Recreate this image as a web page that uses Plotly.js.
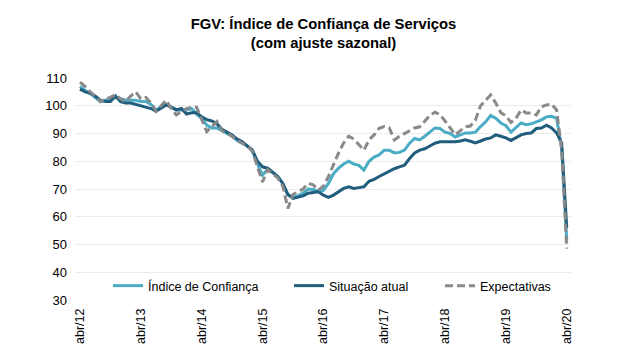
<!DOCTYPE html>
<html>
<head>
<meta charset="utf-8">
<script src="https://cdn.plot.ly/plotly-3.0.1.min.js"></script>
<style>html,body{margin:0;padding:0;background:#fff;}#chart{width:640px;height:364px;}</style>
</head>
<body>
<div id="chart"></div>
<script>
// Tick labels (every 12 months, Apr 2012 .. Apr 2020)
const tickLabels = ["abr/12","abr/13","abr/14","abr/15","abr/16","abr/17","abr/18","abr/19","abr/20"];

// Monthly values, Apr 2012 .. Apr 2020 (97 months)
const indiceConfianca = [
 107,105.5,104.5,103,101.5,102,102.5,103,102.5,102,102,102,
 101.5,101.5,100.5,98.5,99.5,100.5,99.5,98.5,98.5,98.5,99,97,
 95.5,93,92,92,91,90,89,87.5,86.5,85.5,84,79,
 75,77,76,74.5,72,68,67,67.5,68.5,70,69.8,69.2,
 69.5,72,75.5,77.5,79,80,79,78.5,76.8,80,81.5,82.3,
 84,84,83,83.2,84,86.5,88.2,87.7,89,90.5,92,91.8,
 90.5,90,88.7,89.5,90.2,90.2,90.5,92.5,94.2,96.5,95.5,93.8,
 92.8,90.5,92.2,93.8,93.2,93.5,94.2,94.9,96,96.2,95.5,85,
 51.5
];
const situacaoAtual = [
 106,105,104.5,103.5,102,101.5,101.5,103.5,101.5,101,101,100.5,
 100,99.5,99,98,99,100.3,99.5,98.5,99,97,97.5,97.5,
 96,95,94.5,93.5,91.5,90.5,89.5,88,87,85.5,84,80,
 78,77.5,76,74.5,72,68,66.6,67,67.5,68.5,68.8,69,
 67.8,67,67.8,69,70.2,70.8,70.2,70.5,70.8,72.8,73.5,74.5,
 75.5,76.5,77.3,78,78.6,81,83,84,84.5,85.5,86.5,87,
 87,87,87,87.3,87.7,87.2,86.6,87.3,88,88.4,89.5,89,
 88.4,87.5,88.5,89.5,90,90.2,91.8,92,93,92,90.2,86.5,
 56
];
const expectativas = [
 108.5,107,105,103.5,101.5,102.5,103,104,102.5,101.5,103.5,105,
 102.5,103,101,98,100,102,99,96.7,98,99,99.5,99.5,
 95,90.7,92.5,94.3,91,90,89,87.5,86.5,85.5,83.5,78,
 72.5,77,75.5,74,71,63,68,69,70,72,71.5,69.6,
 71,74.5,79,83,86.6,89,88,86,84,87.7,89.5,91.9,
 92.5,92,87.7,89,90,91,92,92.4,94.5,96.5,97.7,96.8,
 94.5,92,89.5,91,92.4,92.7,94.9,100,102,103.9,101,97.5,
 96.4,94,95.5,98.5,97.4,97.4,96.7,99.6,100.3,100.6,98.5,84,
 48.5
];

const xIdx = indiceConfianca.map((_, i) => i);
const tickVals = tickLabels.map((_, k) => k * 12);

const font = "Liberation Sans, Arial, sans-serif";
const L = 76, W = 495;
const px = p => (p - L) / W;

const traces = [
  {x: xIdx, y: indiceConfianca, name: "Índice de Confiança", type: "scatter", mode: "lines",
   line: {color: "#4BACC6", width: 3}, legend: "legend"},
  {x: xIdx, y: situacaoAtual, name: "Situação atual", type: "scatter", mode: "lines",
   line: {color: "#215E7D", width: 3}, legend: "legend2"},
  {x: xIdx, y: expectativas, name: "Expectativas", type: "scatter", mode: "lines",
   line: {color: "#898989", width: 3, dash: "8px,4px"}, legend: "legend3"}
];

const legBase = {
  orientation: "h", y: 0.063, yanchor: "middle", xanchor: "left",
  bgcolor: "rgba(0,0,0,0)", font: {family: font, size: 12.5, color: "#000"}
};

const layout = {
  width: 640, height: 364,
  margin: {l: L, r: 640 - L - W, t: 78, b: 64},
  paper_bgcolor: "#fff", plot_bgcolor: "#fff",
  font: {family: font, size: 13, color: "#000"},
  showlegend: true,
  title: {
    text: "<b>FGV: Índice de Confiança de Serviços<br>(com ajuste sazonal)</b>",
    x: 0.5, xanchor: "center", xref: "paper",
    y: 0.92, yanchor: "middle", yref: "container",
    font: {family: font, size: 14.8, color: "#000"}
  },
  xaxis: {
    range: [-0.79, 96.84],
    tickmode: "array", tickvals: tickVals, ticktext: tickLabels,
    tickangle: -90, showgrid: false, zeroline: false, showline: false,
    ticks: "", ticklabelstandoff: 5,
    tickfont: {family: font, size: 12.5, color: "#000"}
  },
  yaxis: {
    range: [30, 110], dtick: 10, tick0: 30,
    showgrid: true, gridcolor: "#ececec", gridwidth: 1,
    zeroline: false, showline: false, ticks: "", ticklabelstandoff: 8,
    tickfont: {family: font, size: 13, color: "#000"}
  },
  legend: Object.assign({}, legBase, {x: px(108)}),
  legend2: Object.assign({}, legBase, {x: px(289)}),
  legend3: Object.assign({}, legBase, {x: px(440)})
};

Plotly.newPlot("chart", traces, layout, {displayModeBar: false, staticPlot: true});
</script>
</body>
</html>
